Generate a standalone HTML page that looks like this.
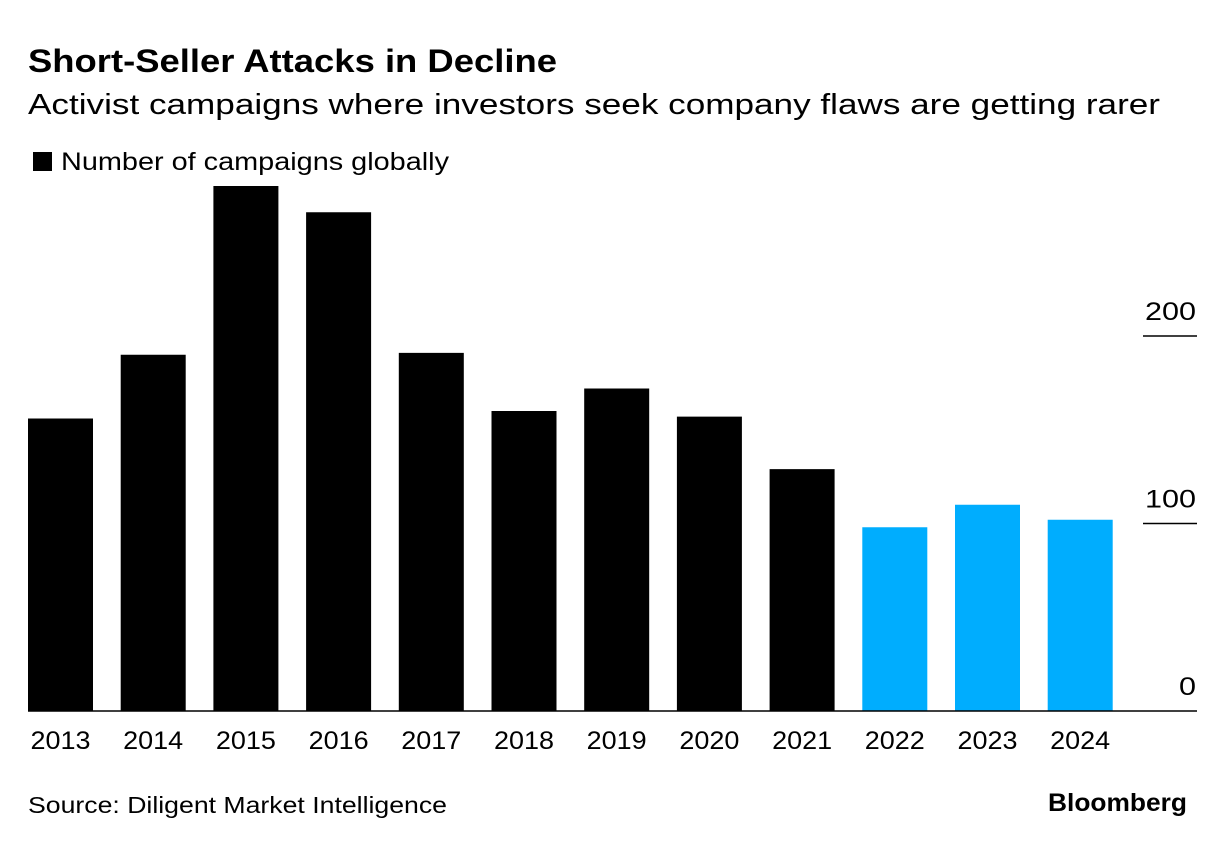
<!DOCTYPE html>
<html><head><meta charset="utf-8"><style>
body{margin:0;background:#fff;font-family:"Liberation Sans",sans-serif;}
svg text{font-family:"Liberation Sans",sans-serif;}
</style></head><body>
<svg width="1225" height="862">
<text x="28" y="72" font-size="32" font-weight="bold" fill="#000" textLength="529" lengthAdjust="spacingAndGlyphs">Short-Seller Attacks in Decline</text>
<text x="28" y="114" font-size="29" fill="#000" textLength="1132" lengthAdjust="spacingAndGlyphs">Activist campaigns where investors seek company flaws are getting rarer</text>
<rect x="33" y="152" width="19" height="19" fill="#000"/>
<text x="61" y="170" font-size="25" fill="#000" textLength="388" lengthAdjust="spacingAndGlyphs">Number of campaigns globally</text>
<g id="bars"></g>
<g id="axes"></g>
<text x="28" y="813" font-size="23" fill="#000" textLength="419" lengthAdjust="spacingAndGlyphs">Source: Diligent Market Intelligence</text>
<text x="1187" y="811" font-size="25" font-weight="bold" text-anchor="end" fill="#000" textLength="139" lengthAdjust="spacingAndGlyphs">Bloomberg</text>
</svg>
<script>
const categories=["2013","2014","2015","2016","2017","2018","2019","2020","2021","2022","2023","2024"];
const values=[156,190,280,266,191,160,172,157,129,98,110,102];
const highlight=[false,false,false,false,false,false,false,false,false,true,true,true];
const yTicks=[0,100,200];
const NS="http://www.w3.org/2000/svg";
const y=v=>711-v*1.875;
const x=i=>28+i*92.7;
const bw=65;
const bars=document.getElementById('bars'),axes=document.getElementById('axes');
categories.forEach((c,i)=>{
 const r=document.createElementNS(NS,'rect');
 
 
 r.setAttribute('x',x(i));r.setAttribute('y',y(values[i]));
 r.setAttribute('width',bw);r.setAttribute('height',711-y(values[i]));
 r.setAttribute('fill',highlight[i]?'#00adfe':'#000');
 bars.appendChild(r);
 const t=document.createElementNS(NS,'text');
 
 
 t.setAttribute('x',x(i)+bw/2-30);t.setAttribute('y',749);
 t.setAttribute('font-size','25');
 t.setAttribute('textLength','60');t.setAttribute('lengthAdjust','spacingAndGlyphs');
 t.textContent=c;axes.appendChild(t);
});
yTicks.forEach(v=>{
 const l=document.createElementNS(NS,'line');
 
 
 l.setAttribute('x1',v===0?28:1143);l.setAttribute('x2',1197);
 l.setAttribute('y1',y(v));l.setAttribute('y2',y(v));
 l.setAttribute('stroke','#000');l.setAttribute('stroke-width','1.5');
 axes.appendChild(l);
 const t=document.createElementNS(NS,'text');
 
 
 const s=String(v);
 const w=s.length*17;
 t.setAttribute('x',1196-w);t.setAttribute('y',y(v)-16);
 t.setAttribute('font-size','25');
 t.setAttribute('textLength',w);t.setAttribute('lengthAdjust','spacingAndGlyphs');
 t.textContent=s;axes.appendChild(t);
});
</script>
</body></html>
